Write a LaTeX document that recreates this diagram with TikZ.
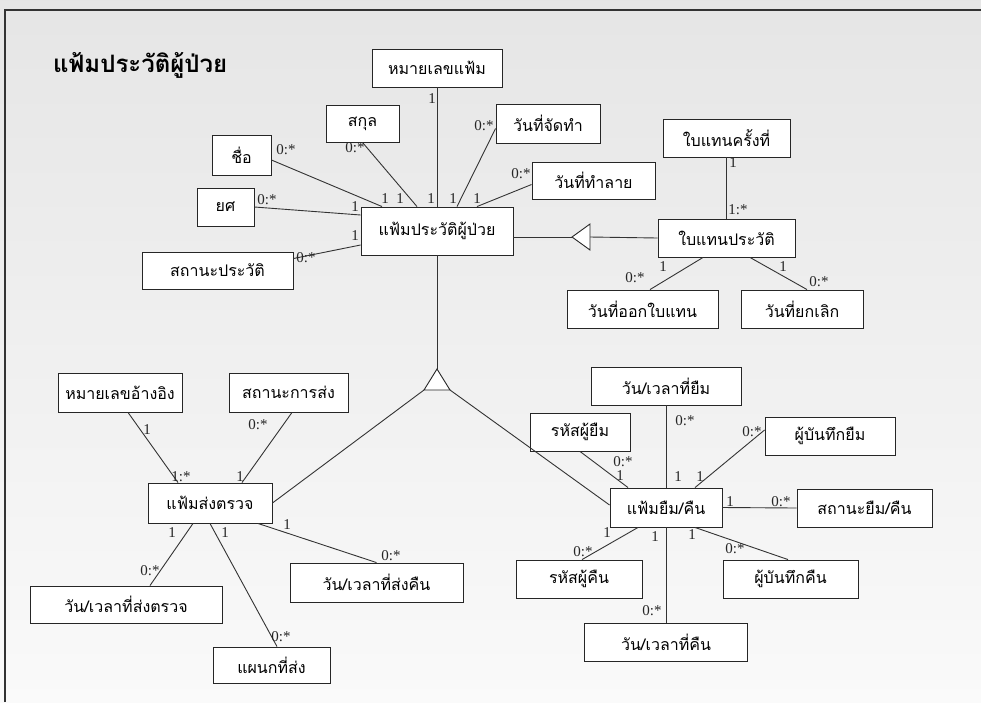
\documentclass[tikz,border=0pt]{standalone}
\usepackage{fontspec}
\setmainfont{Liberation Serif}
\newfontfamily\thai[Script=Thai]{Loma}
\usetikzlibrary{calc}
\begin{document}
\begin{tikzpicture}[x=1pt,y=-1pt,
  attr/.style={draw=black!85, fill=white, line width=0.9pt, inner sep=0pt,
    font=\thai\fontsize{16}{18}\selectfont},
  link/.style={draw=black!80, line width=0.9pt},
  mult/.style={font=\fontsize{15}{16}\selectfont, inner sep=0pt, text=black!85},
  gen/.style={draw=black!85, fill=white, line width=0.9pt},
]
\useasboundingbox (0,0) rectangle (981,702);
\shade[top color=black!10, bottom color=black!2] (0,0) rectangle (981,702);
\draw[line width=1.6pt, black!80] (5,702) -- (5,10) -- (981,10);

% title
\node[anchor=base west, inner sep=0pt, font=\thai\bfseries\fontsize{24}{28}\selectfont] (title) at (53,72) {แฟ้มประวัติผู้ป่วย};

% patient record and its attributes
\node[attr, minimum width=152pt, minimum height=48pt] (main) at (437,231) {แฟ้มประวัติผู้ป่วย};
\node[attr, minimum width=130pt, minimum height=38pt] (fileno) at (437,68) {หมายเลขแฟ้ม};
\node[attr, minimum width=73pt, minimum height=37pt] (surname) at (362.5,123.5) {สกุล};
\node[attr, minimum width=104pt, minimum height=39pt] (created) at (548,123.5) {วันที่จัดทำ};
\node[attr, minimum width=59pt, minimum height=40pt] (name) at (241.5,155) {ชื่อ};
\node[attr, minimum width=123pt, minimum height=37pt] (destroyed) at (593.5,180.5) {วันที่ทำลาย};
\node[attr, minimum width=57pt, minimum height=38pt] (rank) at (225.5,207) {ยศ};
\node[attr, minimum width=151pt, minimum height=37pt] (status) at (217.5,270.5) {สถานะประวัติ};

% replacement record
\node[attr, minimum width=127pt, minimum height=38pt] (copyno) at (726.5,138) {ใบแทนครั้งที่};
\node[attr, minimum width=137pt, minimum height=38pt] (copy) at (726.5,238) {ใบแทนประวัติ};
\node[attr, minimum width=151pt, minimum height=38pt] (issued) at (642.5,309) {วันที่ออกใบแทน};
\node[attr, minimum width=122pt, minimum height=38pt] (cancelled) at (802,309) {วันที่ยกเลิก};

% sent-for-examination file
\node[attr, minimum width=124pt, minimum height=40pt] (send) at (210,503) {แฟ้มส่งตรวจ};
\node[attr, minimum width=124pt, minimum height=39pt] (refno) at (120,392.5) {หมายเลขอ้างอิง};
\node[attr, minimum width=119pt, minimum height=39pt] (sendstatus) at (288.5,392.5) {สถานะการส่ง};
\node[attr, minimum width=192pt, minimum height=37pt] (senddate) at (126,604.5) {วัน/เวลาที่ส่งตรวจ};
\node[attr, minimum width=117pt, minimum height=36pt] (dept) at (271.5,665) {แผนกที่ส่ง};
\node[attr, minimum width=173pt, minimum height=39pt] (returndate) at (376.5,582.5) {วัน/เวลาที่ส่งคืน};

% borrow/return file
\node[attr, minimum width=112pt, minimum height=39pt] (borrow) at (666,507.5) {แฟ้มยืม/คืน};
\node[attr, minimum width=150pt, minimum height=38pt] (borrowtime) at (666,386) {วัน/เวลาที่ยืม};
\node[attr, minimum width=100pt, minimum height=38pt] (borrower) at (580,432) {รหัสผู้ยืม};
\node[attr, minimum width=130pt, minimum height=38pt] (borrowrec) at (830,436) {ผู้บันทึกยืม};
\node[attr, minimum width=135pt, minimum height=38pt] (bstatus) at (864.5,508) {สถานะยืม/คืน};
\node[attr, minimum width=135pt, minimum height=38pt] (returnrec) at (790.5,579) {ผู้บันทึกคืน};
\node[attr, minimum width=126pt, minimum height=38pt] (returner) at (579,579) {รหัสผู้คืน};
\node[attr, minimum width=163pt, minimum height=38pt] (returntime) at (666,642) {วัน/เวลาที่คืน};

% associations of the patient record
\draw[link] ([yshift=-5pt]name.east) -- ([xshift=-55pt]main.north);
\draw[link] (rank.east) -- ([yshift=16pt]main.west);
\draw[link] ([yshift=12pt]status.east) -- ([yshift=-14pt]main.west);
\draw[link] (surname.south) -- ([xshift=-20pt]main.north);
\draw[link] (fileno.south) -- (main.north);
\draw[link] ([yshift=-5pt]created.west) -- ([xshift=20pt]main.north);
\draw[link] ([yshift=-4pt]destroyed.west) -- ([xshift=40pt]main.north);

% replacement record specialises the patient record
\coordinate (g1tip) at (572,237);
\coordinate (g1top) at (590,224);
\coordinate (g1bot) at (590,250);
\draw[link] ([yshift=-6pt]main.east) -- (g1tip);
\draw[link] (g1top |- g1tip) -- (copy.west);
\draw[gen] (g1tip) -- (g1top) -- (g1bot) -- cycle;
\draw[link] (copyno.south) -- (copy.north);
\draw[link] ([xshift=-23.5pt]copy.south) -- ([xshift=7.5pt]issued.north);
\draw[link] ([xshift=23.5pt]copy.south) -- ([xshift=5pt]cancelled.north);

% the two files specialise the patient record
\coordinate (g2apex) at (437,369);
\coordinate (g2left) at (424,390);
\coordinate (g2right) at (450,390);
\draw[link] (main.south) -- (g2apex);
\draw[link] (g2left) -- (send.east);
\draw[link] (g2right) -- ([yshift=2.5pt]borrow.west);
\draw[gen] (g2apex) -- (g2left) -- (g2right) -- cycle;

% associations of the sent-for-examination file
\draw[link] ([xshift=8pt]refno.south) -- ([xshift=-32pt]send.north);
\draw[link] ([xshift=3.5pt]sendstatus.south) -- ([xshift=32pt]send.north);
\draw[link] ([xshift=-17pt]send.south) -- ([xshift=24pt]senddate.north);
\draw[link] (send.south) -- ([xshift=5.5pt]dept.north);
\draw[link] ([xshift=48pt]send.south) -- (returndate.north);

% associations of the borrow/return file
\draw[link] (borrowtime.south) -- (borrow.north);
\draw[link] (borrower.south) -- ([xshift=-38pt]borrow.north);
\draw[link] ([yshift=6pt]borrowrec.west) -- ([xshift=29pt]borrow.north);
\draw[link] (borrow.east) -- (bstatus.west);
\draw[link] ([xshift=29pt]borrow.south) -- ([xshift=-2.5pt]returnrec.north);
\draw[link] ([xshift=-28pt]borrow.south) -- ([xshift=3pt]returner.north);
\draw[link] (borrow.south) -- (returntime.north);

% multiplicities
\node[mult] (m1) at (286,150) {0:*};
\node[mult] (m2) at (267,200) {0:*};
\node[mult] (m3) at (306,258) {0:*};
\node[mult] (m4) at (355,148) {0:*};
\node[mult] (m5) at (484,126) {0:*};
\node[mult] (m6) at (521,174) {0:*};
\node[mult] (m7) at (432,99) {1};
\node[mult] (m8) at (385,199) {1};
\node[mult] (m9) at (400,199) {1};
\node[mult] (m10) at (431,199) {1};
\node[mult] (m11) at (453,199) {1};
\node[mult] (m12) at (477,199) {1};
\node[mult] (m13) at (355,207) {1};
\node[mult] (m14) at (355,236) {1};

\node[mult] (m15) at (733,163) {1};
\node[mult] (m16) at (738,210) {1:*};
\node[mult] (m17) at (663,267) {1};
\node[mult] (m18) at (635,278) {0:*};
\node[mult] (m19) at (783,267) {1};
\node[mult] (m20) at (819,282) {0:*};

\node[mult] (m21) at (147,430) {1};
\node[mult] (m22) at (181,477) {1:*};
\node[mult] (m23) at (258,425) {0:*};
\node[mult] (m24) at (240,477) {1};
\node[mult] (m25) at (172,533) {1};
\node[mult] (m26) at (150,571) {0:*};
\node[mult] (m27) at (225,533) {1};
\node[mult] (m28) at (281,637) {0:*};
\node[mult] (m29) at (287,525) {1};
\node[mult] (m30) at (391,556) {0:*};

\node[mult] (m31) at (623,462) {0:*};
\node[mult] (m32) at (620,476) {1};
\node[mult] (m33) at (685,421) {0:*};
\node[mult] (m34) at (678,477) {1};
\node[mult] (m35) at (700,477) {1};
\node[mult] (m36) at (752,432) {0:*};
\node[mult] (m37) at (730,502) {1};
\node[mult] (m38) at (781,502) {0:*};
\node[mult] (m39) at (692,535) {1};
\node[mult] (m40) at (735,549) {0:*};
\node[mult] (m41) at (607,533) {1};
\node[mult] (m42) at (583,552) {0:*};
\node[mult] (m43) at (655,537) {1};
\node[mult] (m44) at (652,611) {0:*};
\end{tikzpicture}
\end{document}
